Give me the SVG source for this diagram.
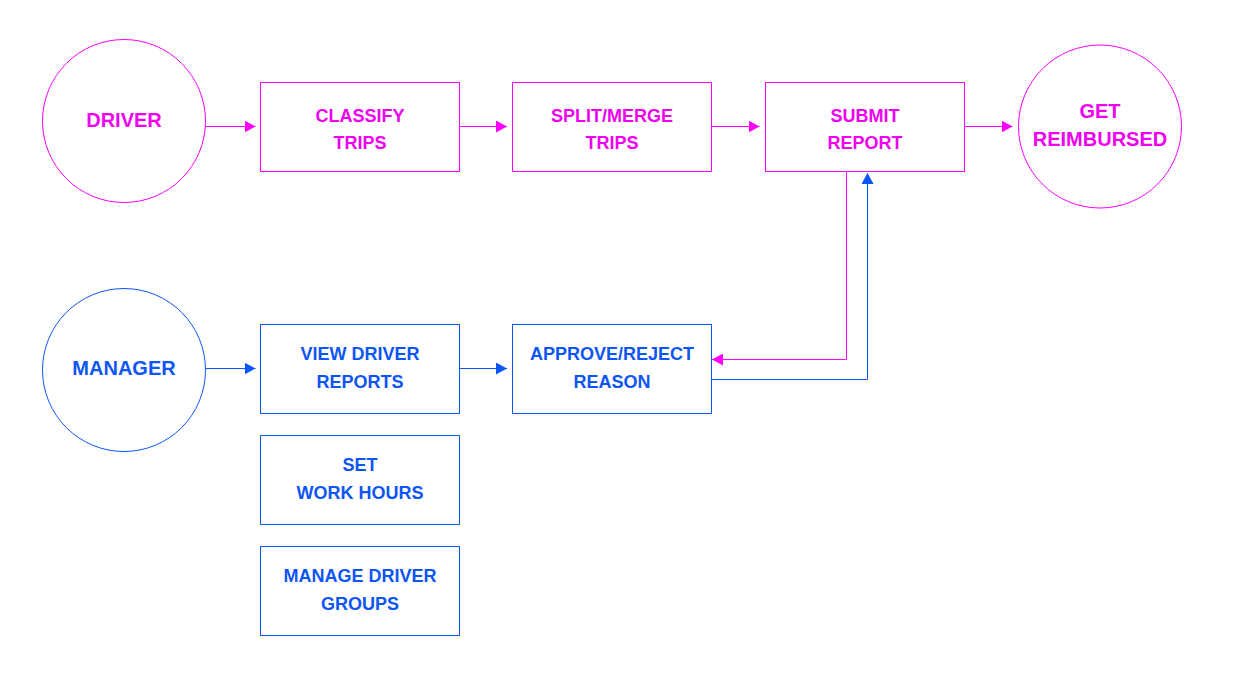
<svg xmlns="http://www.w3.org/2000/svg" width="1241" height="682" viewBox="0 0 1241 682">
<style>
.m{stroke:#ff00ff;fill:none;stroke-width:1}
.b{stroke:#0d55f5;fill:none;stroke-width:1}
.nm{fill:#fff;stroke:#ff00ff;stroke-width:1}
.nb{fill:#fff;stroke:#0d55f5;stroke-width:1}
text{font-family:"Liberation Sans",Arial,Helvetica,sans-serif;font-weight:bold;text-anchor:middle}
.tm{fill:#f000f0}
.tb{fill:#0d55f5}
.s18{font-size:18px}
.s20{font-size:20px}
</style>
<defs>
<marker id="am" viewBox="0 0 11 12" refX="11" refY="6" markerWidth="11" markerHeight="12" markerUnits="userSpaceOnUse" orient="auto"><path d="M0,0 L11,6 L0,12 z" fill="#ff00ff"/></marker>
<marker id="ab" viewBox="0 0 11 12" refX="11" refY="6" markerWidth="11" markerHeight="12" markerUnits="userSpaceOnUse" orient="auto"><path d="M0,0 L11,6 L0,12 z" fill="#0d55f5"/></marker>
</defs>
<rect width="1241" height="682" fill="#fff"/>
<g id="connectors">
<path class="m" d="M206,126.5 H255.5" marker-end="url(#am)"/>
<path class="m" d="M459.5,126.5 H507" marker-end="url(#am)"/>
<path class="m" d="M711.5,126.5 H759.5" marker-end="url(#am)"/>
<path class="m" d="M964.5,126.5 H1012.5" marker-end="url(#am)"/>
<path class="m" d="M846.5,171.5 V359.5 H712" marker-end="url(#am)"/>
<path class="b" d="M711.5,379.5 H867.5 V173" marker-end="url(#ab)"/>
<path class="b" d="M206,368.5 H255.5" marker-end="url(#ab)"/>
<path class="b" d="M459.5,368.5 H507" marker-end="url(#ab)"/>
</g>
<g id="driver">
<circle class="nm" cx="124" cy="121" r="81.5"/>
<text class="tm s20" x="124" y="126.5">DRIVER</text>
</g>
<g id="classify">
<rect class="nm" x="260.5" y="82.5" width="199" height="89"/>
<text class="tm s18" x="360" y="121.5">CLASSIFY</text>
<text class="tm s18" x="360" y="149.3">TRIPS</text>
</g>
<g id="split">
<rect class="nm" x="512.5" y="82.5" width="199" height="89"/>
<text class="tm s18" x="612" y="121.5">SPLIT/MERGE</text>
<text class="tm s18" x="612" y="149.3">TRIPS</text>
</g>
<g id="submit">
<rect class="nm" x="765.5" y="82.5" width="199" height="89"/>
<text class="tm s18" x="865" y="121.5">SUBMIT</text>
<text class="tm s18" x="865" y="149.3">REPORT</text>
</g>
<g id="reimbursed">
<circle class="nm" cx="1100" cy="126.5" r="81.5"/>
<text class="tm s20" x="1100" y="118.3">GET</text>
<text class="tm s20" x="1100" y="146">REIMBURSED</text>
</g>
<g id="manager">
<circle class="nb" cx="124" cy="370" r="81.5"/>
<text class="tb s20" x="124" y="375">MANAGER</text>
</g>
<g id="view">
<rect class="nb" x="260.5" y="324.5" width="199" height="89"/>
<text class="tb s18" x="360" y="360.3">VIEW DRIVER</text>
<text class="tb s18" x="360" y="388">REPORTS</text>
</g>
<g id="approve">
<rect class="nb" x="512.5" y="324.5" width="199" height="89"/>
<text class="tb s18" x="612" y="360.3">APPROVE/REJECT</text>
<text class="tb s18" x="612" y="388">REASON</text>
</g>
<g id="workhours">
<rect class="nb" x="260.5" y="435.5" width="199" height="89"/>
<text class="tb s18" x="360" y="471">SET</text>
<text class="tb s18" x="360" y="499">WORK HOURS</text>
</g>
<g id="groups">
<rect class="nb" x="260.5" y="546.5" width="199" height="89"/>
<text class="tb s18" x="360" y="582.3">MANAGE DRIVER</text>
<text class="tb s18" x="360" y="610">GROUPS</text>
</g>
</svg>
